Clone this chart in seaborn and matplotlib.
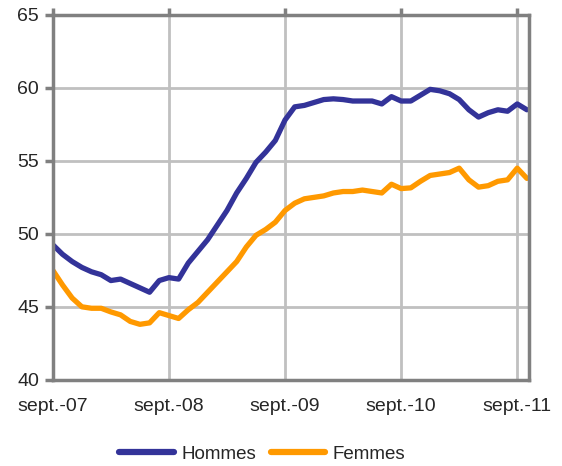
import matplotlib
matplotlib.use("Agg")
import matplotlib.pyplot as plt
import numpy as np
import pandas as pd
import seaborn as sns

# monthly values, sept.-07 .. oct.-11
hommes = [49.25, 48.6, 48.1, 47.7, 47.4, 47.2, 46.8, 46.9, 46.6, 46.3,
          46.0, 46.8, 47.0, 46.9, 48.0, 48.8, 49.6, 50.6, 51.6, 52.8,
          53.8, 54.9, 55.6, 56.4, 57.8, 58.7, 58.8, 59.0, 59.2, 59.25,
          59.2, 59.1, 59.1, 59.1, 58.9, 59.4, 59.1, 59.1, 59.5, 59.9,
          59.8, 59.6, 59.2, 58.5, 58.0, 58.3, 58.5, 58.4, 58.9, 58.5]
femmes = [47.5, 46.5, 45.6, 45.0, 44.9, 44.9, 44.65, 44.45, 44.0, 43.8,
          43.9, 44.6, 44.4, 44.2, 44.8, 45.3, 46.0, 46.7, 47.4, 48.1,
          49.1, 49.9, 50.3, 50.8, 51.6, 52.1, 52.4, 52.5, 52.6, 52.8,
          52.9, 52.9, 53.0, 52.9, 52.8, 53.4, 53.1, 53.15, 53.6, 54.0,
          54.1, 54.2, 54.5, 53.7, 53.2, 53.3, 53.6, 53.7, 54.5, 53.8]
tick_pos = [0, 12, 24, 36, 48]
tick_labels = ["sept.-07", "sept.-08", "sept.-09", "sept.-10", "sept.-11"]

months = np.arange(len(hommes))
df = pd.DataFrame({
    "mois": np.concatenate([months, months]),
    "taux": hommes + femmes,
    "sexe": ["Hommes"] * len(hommes) + ["Femmes"] * len(femmes),
})

sns.set_style("white")
plt.rcParams["font.family"] = ["Liberation Sans", "DejaVu Sans"]

fig = plt.figure(figsize=(5.62, 4.66), dpi=100)
ax = fig.add_axes([0.094, 0.185, 0.847, 0.783])

sns.lineplot(data=df, x="mois", y="taux", hue="sexe",
             palette={"Hommes": "#333399", "Femmes": "#FF9900"},
             linewidth=3.8, ax=ax, legend=True)

ax.set_xlim(0, 49.2)
ax.set_ylim(40, 65)
ax.set_yticks([40, 45, 50, 55, 60, 65])
ax.set_xticks(tick_pos)
ax.set_xticklabels(tick_labels)
ax.set_xlabel("")
ax.set_ylabel("")
ax.grid(True, color="#C0C0C0", linewidth=2)
ax.set_axisbelow(True)
for s in ax.spines.values():
    s.set_color("#808080")
    s.set_linewidth(2.5)
ax.tick_params(axis="y", left=True, length=6, width=2.5, color="#808080",
               labelsize=14, pad=4)
ax.tick_params(axis="x", bottom=False, top=True, length=5, width=2.5,
               color="#808080", labelbottom=True, labelsize=14, pad=8)

leg = ax.legend(loc="upper center", bbox_to_anchor=(0.44, -0.135), ncol=2,
                frameon=False, fontsize=13.5, handlelength=2.9,
                columnspacing=0.8, handletextpad=0.4)
for h in leg.get_lines():
    h.set_linewidth(4.5)

fig.savefig("out.png", dpi=100)
